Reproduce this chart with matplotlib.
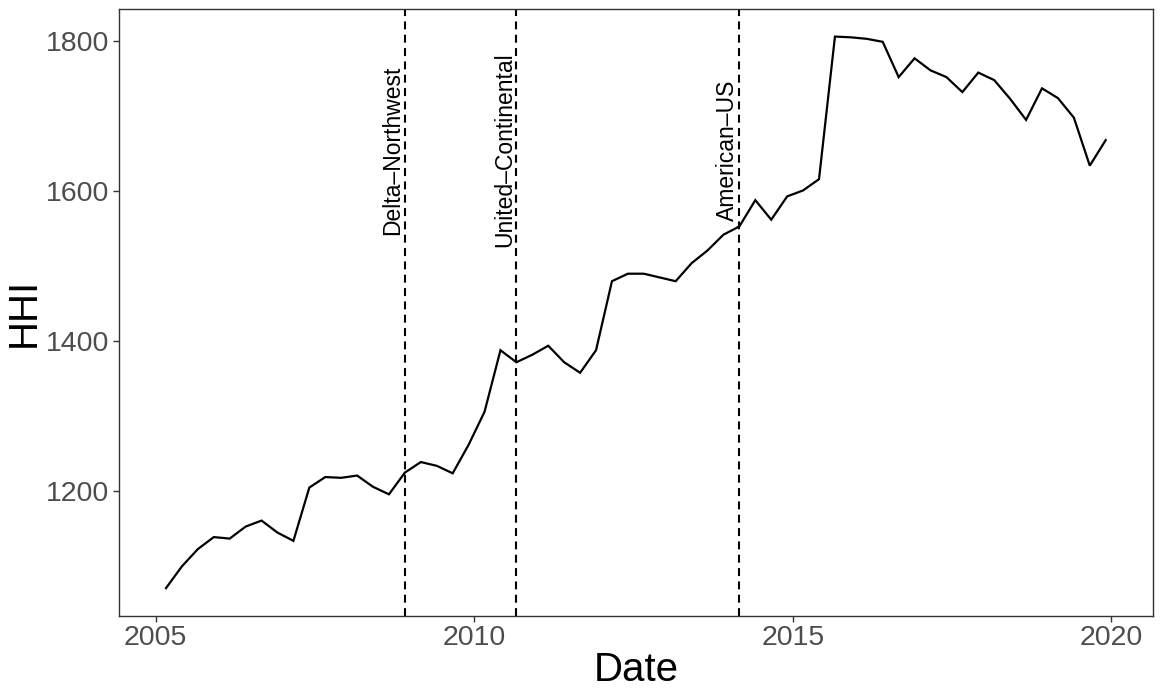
import numpy as np
import matplotlib
matplotlib.use("Agg")
import matplotlib.pyplot as plt

plt.rcParams['font.family'] = ['Liberation Sans', 'DejaVu Sans']

# ---- data ----
years = list(range(2005, 2020))
quarter_offsets = [0.16, 0.41, 0.66, 0.91]  # Mar, Jun, Sep, Dec (1st of month)
hhi = [
    1071, 1100, 1123, 1139, 1137, 1153, 1161, 1145, 1134, 1205,
    1219, 1218, 1221, 1206, 1196, 1225, 1239, 1234, 1224, 1262,
    1306, 1388, 1372, 1382, 1394, 1372, 1358, 1388, 1480, 1490,
    1490, 1485, 1480, 1504, 1521, 1542, 1553, 1588, 1562, 1593,
    1601, 1616, 1806, 1805, 1803, 1799, 1752, 1777, 1761, 1752,
    1732, 1758, 1748, 1723, 1695, 1737, 1724, 1698, 1634, 1668,
]
merger_names = ["Delta\u2013Northwest", "United\u2013Continental", "American\u2013US"]
merger_dates = [2008.91, 2010.66, 2014.16]
label_y = 1655

dates = np.array([y + q for y in years for q in quarter_offsets])

# ---- figure ----
W, H = 1163, 698
fig = plt.figure(figsize=(W / 100, H / 100), dpi=100)
left, right, top, bottom = 119, 1152.7, 9, 615.7
ax = fig.add_axes([left / W, (H - bottom) / H, (right - left) / W, (bottom - top) / H])

ax.plot(dates, hhi, color='black', lw=1.6, solid_joinstyle='miter')
ax.margins(x=0.05, y=0.05)

for name, d in zip(merger_names, merger_dates):
    ax.axvline(d, color='black', lw=1.5, linestyle=(0, (3.8, 2.6)))
    ax.text(d - 0.01, label_y, name, rotation=90, ha='right', va='center',
            fontsize=16.5, color='black')

ax.set_xticks([2005, 2010, 2015, 2020])
ax.set_yticks([1200, 1400, 1600, 1800])
ax.tick_params(axis='both', labelsize=20.5, labelcolor='#4D4D4D', color='#333333',
               length=4.5, width=1.0, pad=2.5)
for sp in ax.spines.values():
    sp.set_color('#333333')
    sp.set_linewidth(1.0)

ax.set_xlabel('Date', fontsize=29, labelpad=0)
ax.set_ylabel('HHI', fontsize=29, labelpad=2)

fig.savefig('out.png', dpi=100)
